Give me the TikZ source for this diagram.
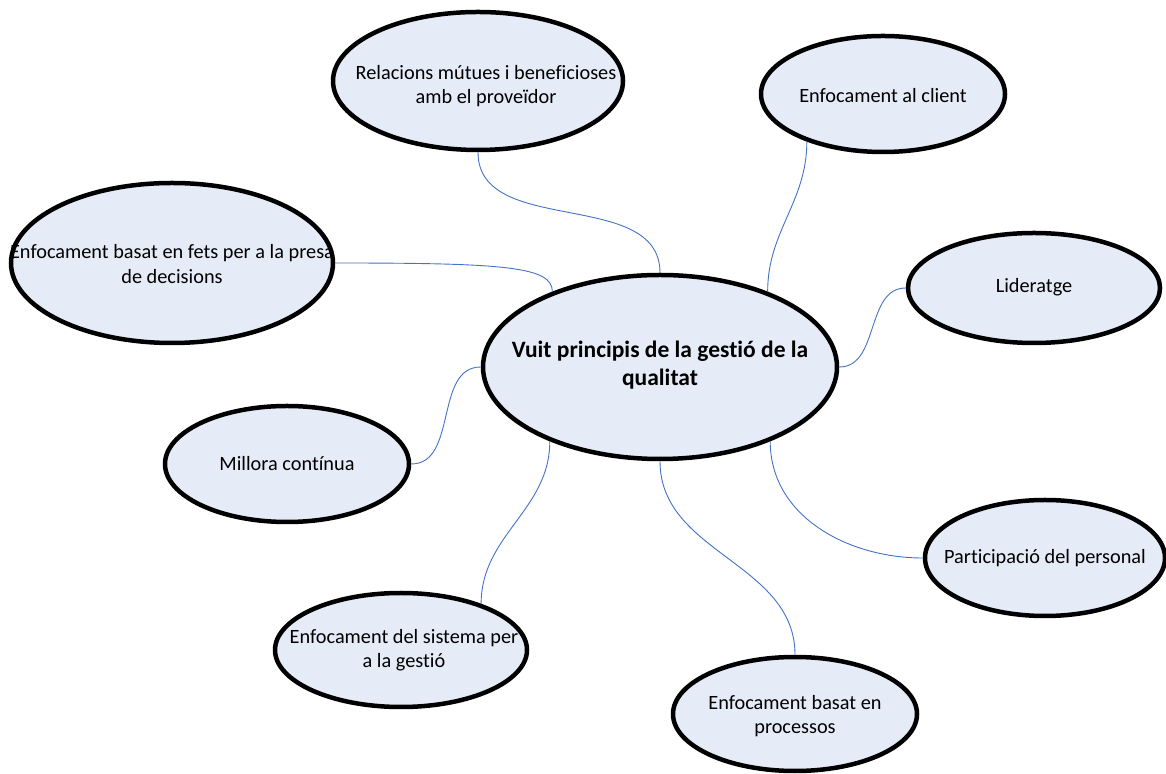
\documentclass[tikz,border=0pt]{standalone}
\usepackage{fontspec}
\setmainfont[Ligatures=NoCommon]{Carlito}
\usetikzlibrary{shapes.geometric}
\definecolor{bubfill}{RGB}{230,236,247}
\definecolor{linkblue}{RGB}{68,114,196}
\tikzset{
  bub/.style={ellipse, draw=black, line width=4.5pt, fill=bubfill, inner sep=0pt},
  txt/.style={align=center, inner sep=0pt, font=\fontsize{20.3}{24}\selectfont},
  maintxt/.style={align=center, inner sep=0pt, font=\fontsize{23.5}{28}\selectfont\bfseries},
  link/.style={draw=linkblue, line width=0.9pt}
}
\begin{document}
\begin{tikzpicture}[x=1pt,y=1pt]
\useasboundingbox (0,0) rectangle (1166,773);

% ellipses
\node[bub, minimum width=290, minimum height=138] (t)  at (478,692) {};
\node[bub, minimum width=244, minimum height=116] (cl) at (883,679) {};
\node[bub, minimum width=322, minimum height=160] (f)  at (172,510) {};
\node[bub, minimum width=252, minimum height=110] (l)  at (1034,485) {};
\node[bub, minimum width=354, minimum height=184] (c)  at (660,406) {};
\node[bub, minimum width=244, minimum height=116] (m)  at (287,309) {};
\node[bub, minimum width=240, minimum height=116] (p)  at (1045,215) {};
\node[bub, minimum width=252, minimum height=114] (s)  at (401,123) {};
\node[bub, minimum width=244, minimum height=114] (pr) at (795,59) {};

% connectors from the central ellipse to each principle
\draw[link] (t.south) to[out=-90,in=90] (c.north);
\draw[link] (cl.-148) to[out=-90,in=90] (c.35);
\draw[link] (f.east) to[out=0,in=90,out distance=170,in distance=25] (c.145);
\draw[link] (l.west) to[out=180,in=0] (c.east);
\draw[link] (m.east) to[out=0,in=180] (c.west);
\draw[link] (c.-34) to[out=-90,in=180] (p.west);
\draw[link] (c.south) to[out=-90,in=90] (pr.north);
\draw[link] (c.-146) to[out=-90,in=90] (s.30);

% labels
\node[txt] (tT)  at (486,687) {Relacions mútues i beneficioses\\amb el proveïdor};
\node[txt] (clT) at (883,677) {Enfocament al client};
\node[txt, font=\fontsize{20.3}{25}\selectfont] (fT) at (172,509) {Enfocament basat en fets per a la presa\\de decisions};
\node[txt] (lT)  at (1034,486) {Lideratge};
\node[maintxt] (cT) at (660,408) {Vuit principis de la gestió de la\\qualitat};
\node[txt] (mT)  at (287,309) {Millora contínua};
\node[txt] (pT)  at (1045,215) {Participació del personal};
\node[txt] (sT)  at (404,123) {Enfocament del sistema per\\a la gestió};
\node[txt] (prT) at (795,57) {Enfocament basat en\\processos};
\end{tikzpicture}
\end{document}
